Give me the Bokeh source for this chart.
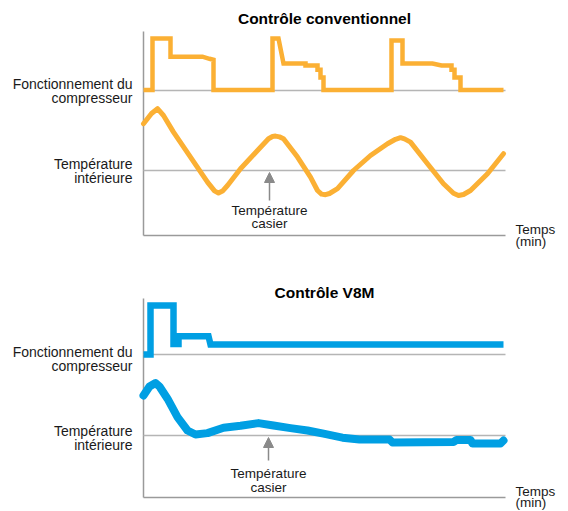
from bokeh.plotting import figure
from bokeh.models import Range1d, Label, Arrow, NormalHead
from bokeh.layouts import column
from bokeh.embed import file_html
from bokeh.resources import INLINE

# ---------------- data (time in min, compressor in %, temperature in °C) ----
SETPOINT = 5.0
T_END = 362

conv_comp_t = [0, 9, 9, 27, 27, 59, 66, 70, 70, 129, 129, 135, 140, 162, 162, 174, 174, 177,
               177, 180, 180, 248, 248, 259, 259, 289, 298, 308, 308, 311, 311, 317, 317, 360]
conv_comp_v = [1, 1, 100, 100, 65, 65, 61, 59, 1, 1, 100, 100, 52, 52, 48, 48, 40, 40,
               25, 25, 1, 1, 96, 96, 52, 52, 48, 48, 40, 40, 25, 25, 1, 1]

conv_temp_t = [0, 8, 14, 20, 30, 47, 64, 71, 75, 79, 84, 97, 114, 125, 129, 132, 136, 140,
               154, 167, 174, 178, 182, 186, 194, 210, 227, 244, 252, 257, 261, 267, 284,
               300, 310, 315, 320, 327, 344, 360]
conv_temp_c = [7.34, 7.85, 8.09, 7.75, 6.92, 5.67, 4.42, 3.98, 3.87, 3.97, 4.25, 5.09, 6.0,
               6.59, 6.70, 6.72, 6.68, 6.59, 5.67, 4.67, 4.0, 3.82, 3.79, 3.85, 4.09, 5.0,
               5.75, 6.34, 6.56, 6.64, 6.58, 6.42, 5.34, 4.34, 3.86, 3.75, 3.80, 4.0, 4.84,
               5.84]

v8m_comp_t = [0, 7, 7, 30, 30, 35, 35, 65, 67, 360]
v8m_comp_v = [0, 0, 94, 94, 20, 20, 35, 35, 19, 19]

v8m_temp_t = [0, 6, 12, 16, 24, 34, 44, 52, 64, 80, 97, 115, 130, 147, 164, 180, 199, 216,
              246, 249, 310, 313, 327, 329, 357, 360]
v8m_temp_c = [7.0, 7.45, 7.62, 7.45, 6.84, 5.92, 5.25, 5.05, 5.12, 5.39, 5.49, 5.62, 5.5,
              5.37, 5.25, 5.09, 4.89, 4.8, 4.8, 4.65, 4.67, 4.78, 4.78, 4.6, 4.6, 4.75]

titles = ["Contrôle conventionnel", "Contrôle V8M"]
comp_label = ["Fonctionnement du", "compresseur"]
temp_label = ["Température", "intérieure"]
casier_label = ["Température", "casier"]
time_label = ["Temps", "(min)"]

ORANGE = "#FBB034"
BLUE = "#009FE3"
GRID = "#b5b5b5"
AXIS = "#9a9a9a"
TEXT = "#1a1a1a"
FONT = "Liberation Sans"


def make_chart(title, comp_t, comp_v, temp_t, temp_v, color, comp_w, temp_w,
               height, view_temp, view_comp, axis_temp,
               comp_lab_y, temp_lab_y, title_y, casier_y, arrow_x, arrow_y,
               time_offsets):
    p = figure(width=560, height=height, x_range=Range1d(-143, 417),
               y_range=Range1d(*view_temp), output_backend="svg",
               toolbar_location=None, x_axis_type=None, y_axis_type=None,
               min_border=0)
    p.extra_y_ranges = {"comp": Range1d(*view_comp)}
    p.grid.visible = False
    p.outline_line_color = None
    p.background_fill_color = "white"
    p.border_fill_color = "white"

    # axis lines
    p.segment(x0=[0, 0], y0=[axis_temp[0], axis_temp[0]],
              x1=[0, T_END], y1=[axis_temp[1], axis_temp[0]],
              line_color=AXIS, line_width=1.5)
    # baselines
    p.segment(x0=[0], y0=[0], x1=[T_END], y1=[0], y_range_name="comp",
              line_color=GRID, line_width=1.5)
    p.segment(x0=[0], y0=[SETPOINT], x1=[T_END], y1=[SETPOINT],
              line_color=GRID, line_width=1.5)

    p.line(comp_t, comp_v, y_range_name="comp", line_color=color,
           line_width=comp_w, line_join="miter")
    p.line(temp_t, temp_v, line_color=color, line_width=temp_w,
           line_join="round", line_cap="round")

    # left labels
    for txt, off in zip(comp_label, (7, -7)):
        p.add_layout(Label(x=-11, y=comp_lab_y, y_range_name="comp", text=txt,
                           y_offset=off, text_align="right", text_baseline="middle",
                           text_font=FONT, text_font_size="14px", text_color=TEXT))
    for txt, off in zip(temp_label, (7, -7)):
        p.add_layout(Label(x=-11, y=temp_lab_y, text=txt, y_offset=off,
                           text_align="right", text_baseline="middle",
                           text_font=FONT, text_font_size="14px", text_color=TEXT))
    # title
    p.add_layout(Label(x=181, y=title_y, text=title, text_align="center",
                       text_baseline="middle", text_font=FONT, text_font_size="15.5px",
                       text_font_style="bold", text_color="#000000"))
    # casier
    for txt, yy in zip(casier_label, casier_y):
        p.add_layout(Label(x=arrow_x, y=yy, text=txt, text_align="center",
                           text_baseline="middle", text_font=FONT,
                           text_font_size="13.5px", text_color=TEXT))
    p.add_layout(Arrow(end=NormalHead(size=10, fill_color="#8a8a8a",
                                      line_color="#8a8a8a"),
                       x_start=arrow_x, y_start=arrow_y[0], x_end=arrow_x,
                       y_end=arrow_y[1], line_color="#8a8a8a", line_width=1.5))
    # time label
    for txt, off in zip(time_label, time_offsets):
        p.add_layout(Label(x=372, y=axis_temp[0], text=txt, y_offset=off,
                           text_align="left", text_baseline="middle", text_font=FONT,
                           text_font_size="13.5px", text_color=TEXT))
    return p


top = make_chart(titles[0], conv_comp_t, conv_comp_v, conv_temp_t, conv_temp_c,
                 ORANGE, 4.5, 5, 258, (0.6, 13.5), (-323.1, 173.1), (1.75, 11.95),
                 0, SETPOINT, 12.6, (3.0, 2.35), 126, (3.5, 4.9), (6, -6))
bottom = make_chart(titles[1], v8m_comp_t, v8m_comp_v, v8m_temp_t, v8m_temp_c,
                    BLUE, 6.5, 8, 252, (1.25, 13.85), (-300.0, 184.6), (1.9, 11.85),
                    -8, 4.875, 12.15, (3.1, 2.4), 125, (3.75, 4.9), (6, -5))

layout = column(top, bottom, spacing=0)
open("out.html", "w").write(file_html(layout, INLINE))
